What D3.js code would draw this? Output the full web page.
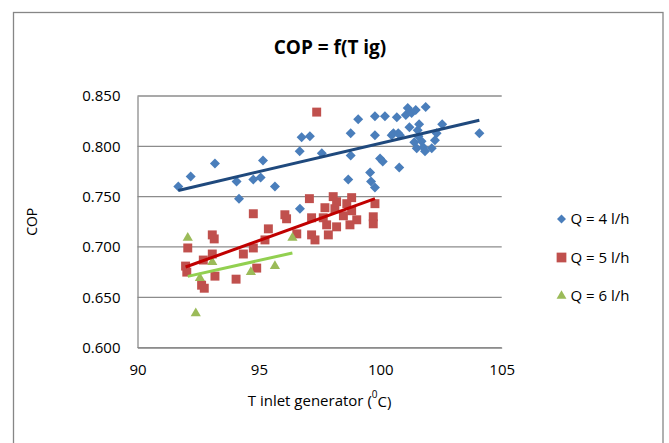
<!DOCTYPE html>
<html>
<head>
<meta charset="utf-8">
<script src="https://cdn.jsdelivr.net/npm/d3@7"></script>
<style>
  body { margin: 0; background: #fff; }
  text { font-family: "Open Sans", Lato, sans-serif; fill: #000; }
</style>
</head>
<body>
<svg id="chart" width="669" height="443"></svg>
<script>
// Q = 4 l/h
var q4x = [91.68, 92.19, 93.19, 94.08, 94.18, 94.77, 95.07, 95.17, 95.66, 96.68, 96.69, 96.76, 97.10, 97.59,
    98.68, 98.78, 98.78, 99.09, 99.58, 99.62, 99.78, 99.78, 99.78, 99.99, 100.10, 100.19, 100.47, 100.54,
    100.68, 100.74, 100.78, 100.81, 101.05, 101.13, 101.20, 101.29, 101.46, 101.40, 101.50, 101.54, 101.57,
    101.60, 101.70, 101.77, 101.84, 101.87, 102.12, 102.25, 102.32, 102.55, 104.08];
var q4y = [0.760, 0.770, 0.783, 0.765, 0.748, 0.767, 0.769, 0.786, 0.760, 0.795, 0.738, 0.809, 0.810, 0.793,
    0.767, 0.813, 0.791, 0.827, 0.774, 0.765, 0.759, 0.830, 0.811, 0.788, 0.785, 0.830, 0.811, 0.813,
    0.829, 0.813, 0.779, 0.811, 0.831, 0.838, 0.819, 0.833, 0.836, 0.804, 0.798, 0.816, 0.810,
    0.822, 0.805, 0.799, 0.795, 0.839, 0.798, 0.806, 0.813, 0.822, 0.813];
// Q = 5 l/h
var q5x = [92.07, 93.08, 93.16, 93.08, 92.71, 91.98, 92.03, 92.64, 92.75, 93.19, 94.06, 94.36, 94.77, 94.91,
    94.77, 95.39, 95.25, 96.07, 96.14, 96.56, 97.38, 97.08, 97.17, 97.17, 97.31, 97.65, 97.72, 97.79, 97.86,
    98.06, 98.13, 98.20, 98.20, 98.48, 98.62, 98.75, 98.82, 98.82, 99.03, 99.71, 99.71, 99.78];
var q5y = [0.699, 0.712, 0.708, 0.693, 0.687, 0.681, 0.675, 0.662, 0.659, 0.671, 0.668, 0.693, 0.699, 0.679,
    0.733, 0.718, 0.707, 0.732, 0.728, 0.713, 0.834, 0.748, 0.729, 0.712, 0.707, 0.729, 0.739, 0.722, 0.712,
    0.750, 0.738, 0.745, 0.720, 0.731, 0.743, 0.722, 0.749, 0.736, 0.727, 0.730, 0.723, 0.743];
// Q = 6 l/h
var q6x = [92.07, 92.57, 93.08, 94.67, 95.66, 96.38, 92.40];
var q6y = [0.709, 0.669, 0.685, 0.675, 0.681, 0.709, 0.634];

var seriesNames = ["Q = 4 l/h", "Q = 5 l/h", "Q = 6 l/h"];
var xTicks = [90, 95, 100, 105];
var yTicks = [0.600, 0.650, 0.700, 0.750, 0.800, 0.850];

var svg = d3.select("#chart");

// рамка диаграммы
svg.append("rect")
    .attr("x", 13.5).attr("y", 12.5)
    .attr("width", 649.5).attr("height", 460)
    .attr("fill", "#fff")
    .attr("stroke", "#868686")
    .attr("stroke-width", 1.3);

var x = d3.scaleLinear().domain([90, 105]).range([137.5, 501.7]);
var y = d3.scaleLinear().domain([0.6, 0.85]).range([347.6, 96]);

// сетка
svg.append("g")
    .selectAll("line")
    .data(yTicks)
    .enter().append("line")
    .attr("x1", x(90)).attr("x2", x(105))
    .attr("y1", function (d) { return y(d); })
    .attr("y2", function (d) { return y(d); })
    .attr("stroke", "#8c8c8c")
    .attr("stroke-width", 1.3);

var yAxis = svg.append("g")
    .attr("transform", "translate(" + x(90) + ",0)")
    .call(d3.axisLeft(y).tickValues(yTicks).tickFormat(d3.format(".3f")).tickSize(0).tickPadding(17));
yAxis.select(".domain").attr("stroke", "#8c8c8c").attr("stroke-width", 1.3);
yAxis.selectAll("text").attr("font-size", 15).attr("font-family", "'Open Sans', Lato, sans-serif");

var xAxis = svg.append("g")
    .attr("transform", "translate(0," + y(0.6) + ")")
    .call(d3.axisBottom(x).tickValues(xTicks).tickFormat(d3.format("d")).tickSize(0).tickPadding(17));
xAxis.select(".domain").attr("stroke", "#8c8c8c").attr("stroke-width", 1.3);
xAxis.selectAll("text").attr("font-size", 15).attr("font-family", "'Open Sans', Lato, sans-serif");

// маркеры
var diamond = d3.symbol().type(d3.symbolSquare).size(50);
var square = d3.symbol().type(d3.symbolSquare).size(80);
var triangle = d3.symbol().type(d3.symbolTriangle).size(45);

var series = [
    { xs: q4x, ys: q4y, sym: diamond, rot: 45, color: "#4a7ebb", line: "#1f497d" },
    { xs: q5x, ys: q5y, sym: square, rot: 0, color: "#c0504d", line: "#c00000" },
    { xs: q6x, ys: q6y, sym: triangle, rot: 0, color: "#9bbb59", line: "#92d050" }
];

series.forEach(function (s) {
    svg.append("g")
        .selectAll("path")
        .data(d3.range(s.xs.length))
        .enter().append("path")
        .attr("d", s.sym)
        .attr("fill", s.color)
        .attr("transform", function (i) {
            return "translate(" + x(s.xs[i]) + "," + y(s.ys[i]) + ") rotate(" + s.rot + ")";
        });
});

// линии тренда (МНК)
function trend(xs, ys) {
    var mx = d3.mean(xs), my = d3.mean(ys);
    var sxy = d3.sum(xs, function (v, i) { return (v - mx) * (ys[i] - my); });
    var sxx = d3.sum(xs, function (v) { return (v - mx) * (v - mx); });
    var b = sxy / sxx;
    var x0 = d3.min(xs), x1 = d3.max(xs);
    return [[x0, my + b * (x0 - mx)], [x1, my + b * (x1 - mx)]];
}

var line = d3.line()
    .x(function (d) { return x(d[0]); })
    .y(function (d) { return y(d[1]); });

series.forEach(function (s) {
    svg.append("path")
        .attr("d", line(trend(s.xs, s.ys)))
        .attr("fill", "none")
        .attr("stroke", s.line)
        .attr("stroke-width", 3);
});

// легенда
var legend = svg.append("g");
var legendY = [219, 257.5, 296];
var legendSym = [
    d3.symbol().type(d3.symbolSquare).size(40),
    d3.symbol().type(d3.symbolSquare).size(95),
    d3.symbol().type(d3.symbolTriangle).size(42)
];
series.forEach(function (s, i) {
    legend.append("path")
        .attr("d", legendSym[i])
        .attr("fill", s.color)
        .attr("transform", "translate(561.5," + legendY[i] + ") rotate(" + s.rot + ")");
    legend.append("text")
        .attr("x", 570.5)
        .attr("y", legendY[i])
        .attr("dy", "0.35em")
        .attr("font-size", 15)
        .text(seriesNames[i]);
});

// заголовки
svg.append("text")
    .attr("x", 330)
    .attr("y", 47)
    .attr("dy", "0.35em")
    .attr("text-anchor", "middle")
    .attr("font-size", 19)
    .attr("font-weight", "bold")
    .text("COP = f(T ig)");

svg.append("text")
    .attr("transform", "translate(32," + y(0.725) + ") rotate(-90)")
    .attr("text-anchor", "middle")
    .attr("dy", "0.35em")
    .attr("font-size", 14)
    .text("COP");

var xt = svg.append("text")
    .attr("x", x(97.5))
    .attr("y", 401)
    .attr("dy", "0.35em")
    .attr("text-anchor", "middle")
    .attr("font-size", 15);
xt.append("tspan").text("T inlet generator (");
xt.append("tspan").attr("font-size", 10).attr("dy", "-0.8em").text("0");
xt.append("tspan").attr("dy", "0.55em").text("C)");
</script>
</body>
</html>
